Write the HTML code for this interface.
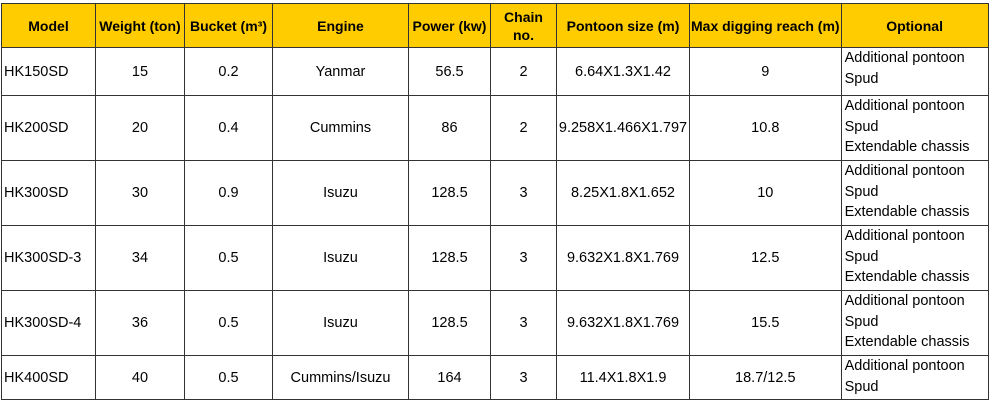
<!DOCTYPE html>
<html><head><style>
body{margin:0;background:#fff;width:993px;height:405px;overflow:hidden}
table{position:absolute;left:1px;top:3px;border-collapse:collapse;table-layout:fixed;font-family:"Liberation Sans",sans-serif;font-size:14.5px;color:#000}
td,th{border:1px solid #333;padding:0 1px;text-align:center;line-height:20px;overflow:hidden;white-space:nowrap}
th{background:#ffcc00;font-weight:bold;height:43px;line-height:18px;font-size:14px;padding:0 1px}
td.l{text-align:left;padding-left:2px}
td.o{text-align:left;padding-left:3px;vertical-align:top;line-height:20.5px}
</style></head><body>
<table>
<colgroup><col style="width:94px"><col style="width:89px"><col style="width:88px"><col style="width:136px"><col style="width:82px"><col style="width:66px"><col style="width:133px"><col style="width:151px"><col style="width:147px"></colgroup>
<tr style="height:44px"><th>Model</th><th>Weight (ton)</th><th>Bucket (m³)</th><th>Engine</th><th>Power (kw)</th><th>Chain<br>no.</th><th>Pontoon size (m)</th><th>Max digging reach (m)</th><th>Optional</th></tr>
<tr style="height:48px"><td class="l">HK150SD</td><td>15</td><td>0.2</td><td>Yanmar</td><td>56.5</td><td>2</td><td>6.64X1.3X1.42</td><td>9</td><td class="o">Additional pontoon<br>Spud</td></tr>
<tr style="height:65px"><td class="l">HK200SD</td><td>20</td><td>0.4</td><td>Cummins</td><td>86</td><td>2</td><td>9.258X1.466X1.797</td><td>10.8</td><td class="o">Additional pontoon<br>Spud<br>Extendable chassis</td></tr>
<tr style="height:65px"><td class="l">HK300SD</td><td>30</td><td>0.9</td><td>Isuzu</td><td>128.5</td><td>3</td><td>8.25X1.8X1.652</td><td>10</td><td class="o">Additional pontoon<br>Spud<br>Extendable chassis</td></tr>
<tr style="height:65px"><td class="l">HK300SD-3</td><td>34</td><td>0.5</td><td>Isuzu</td><td>128.5</td><td>3</td><td>9.632X1.8X1.769</td><td>12.5</td><td class="o">Additional pontoon<br>Spud<br>Extendable chassis</td></tr>
<tr style="height:65px"><td class="l">HK300SD-4</td><td>36</td><td>0.5</td><td>Isuzu</td><td>128.5</td><td>3</td><td>9.632X1.8X1.769</td><td>15.5</td><td class="o">Additional pontoon<br>Spud<br>Extendable chassis</td></tr>
<tr style="height:44px"><td class="l">HK400SD</td><td>40</td><td>0.5</td><td>Cummins/Isuzu</td><td>164</td><td>3</td><td>11.4X1.8X1.9</td><td>18.7/12.5</td><td class="o">Additional pontoon<br>Spud</td></tr>
</table>
</body></html>
